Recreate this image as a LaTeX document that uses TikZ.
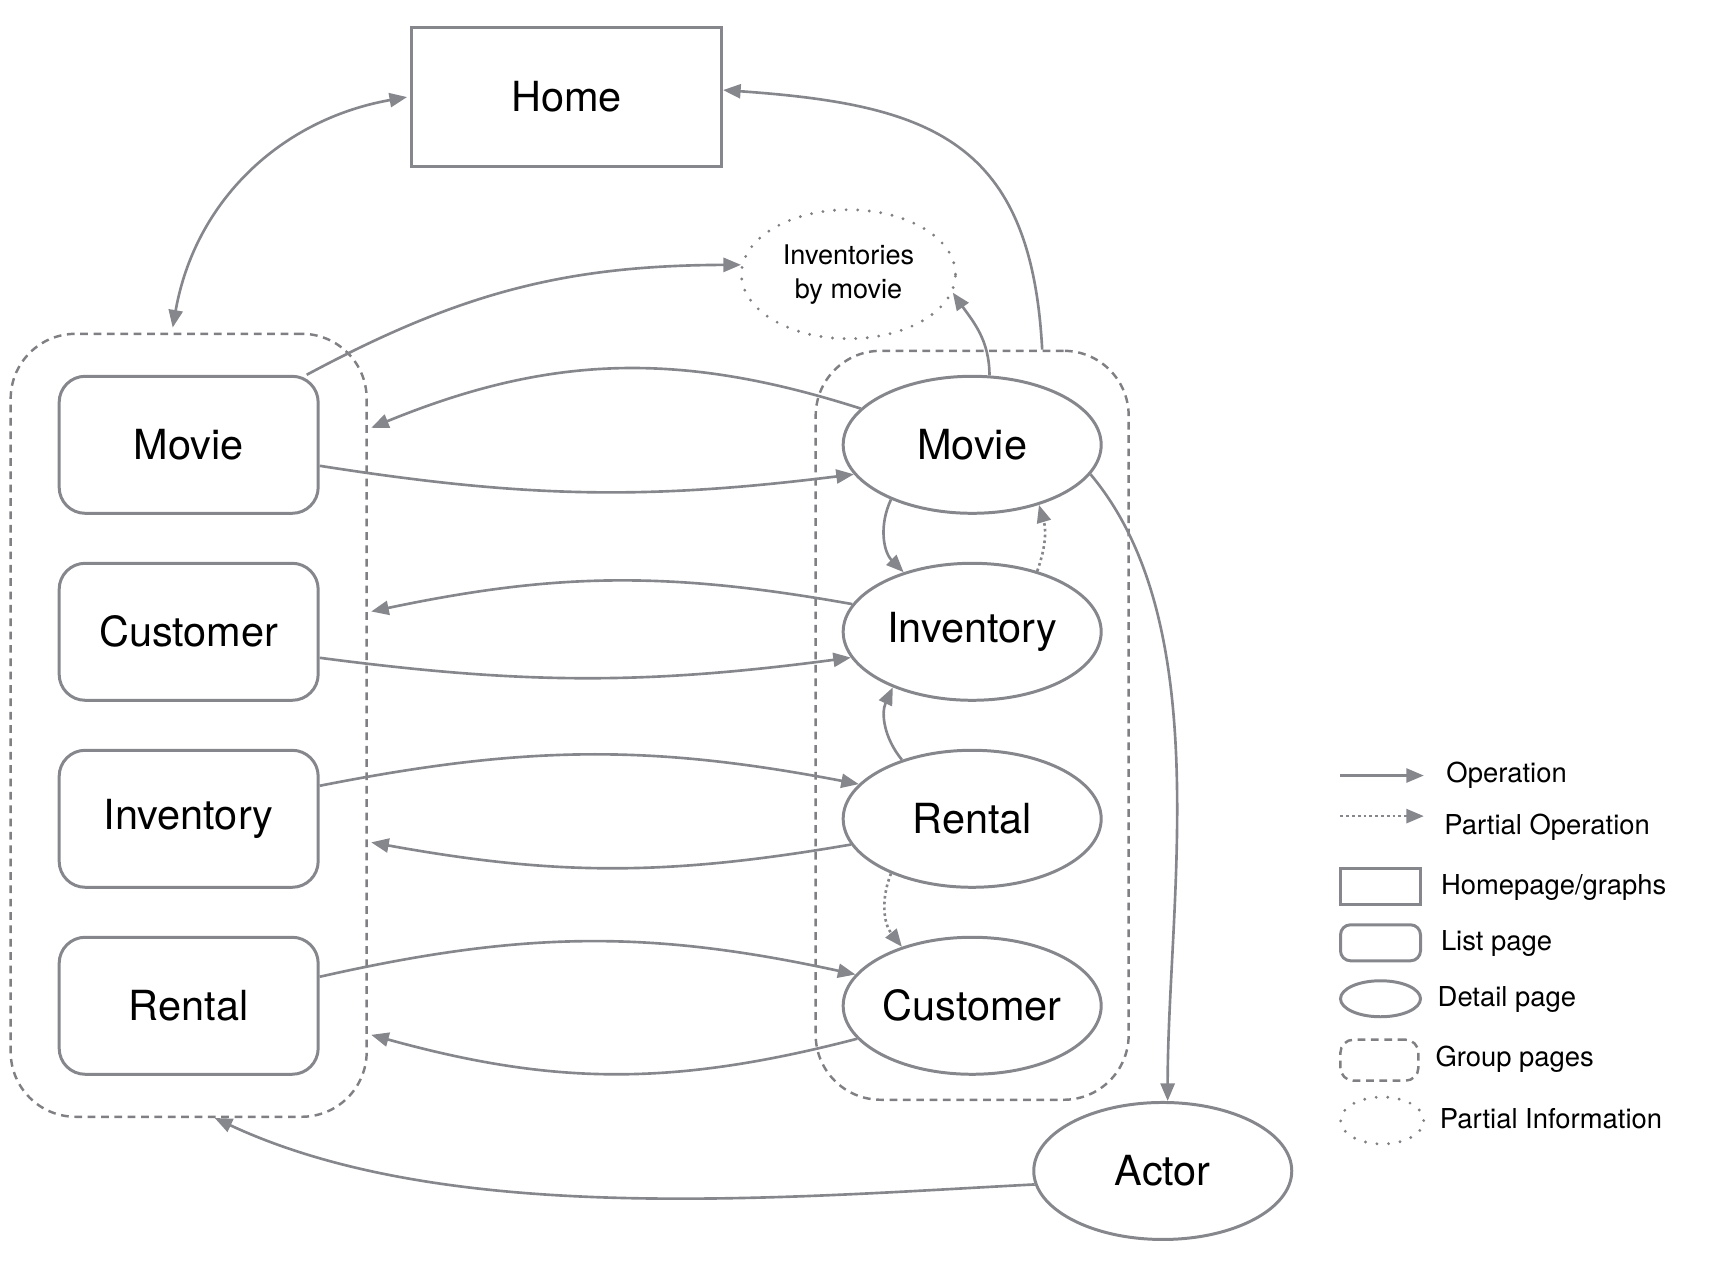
\documentclass[tikz,border=0pt]{standalone}
\usepackage{fontspec}
\setmainfont{TeX Gyre Heros}
\usepackage{xcolor}
\usetikzlibrary{positioning,arrows.meta,calc,fit,shapes.geometric}
\definecolor{linegray}{RGB}{134,135,140}
\definecolor{dashgray}{RGB}{128,128,132}

\begin{document}
\begin{tikzpicture}[
    x=0.1097mm, y=0.1097mm,
    node distance=4.7mm and 52.2mm,
    page/.style={draw=linegray, line width=0.85pt, font=\fontsize{11.8}{14}\selectfont},
    home/.style={page, rectangle, minimum width=31mm, minimum height=13.9mm},
    listpage/.style={page, rectangle, rounded corners=2.6mm, minimum width=25.9mm, minimum height=13.7mm},
    detail/.style={page, ellipse, inner sep=0pt, minimum width=25.8mm, minimum height=13.7mm},
    group/.style={draw=dashgray, line width=0.7pt, dash pattern=on 2.2pt off 1.6pt, rounded corners=6.5mm},
    partial/.style={draw=dashgray, line width=0.9pt, line cap=round, dash pattern=on 0pt off 3.3pt, ellipse, align=center, inner sep=0pt, font=\fontsize{7.7}{9.6}\selectfont},
    arrow/.style={-{Triangle[length=5pt,width=4pt]}, draw=linegray, line width=0.75pt},
    dblarrow/.style={arrow, {Triangle[length=5pt,width=4pt]}-{Triangle[length=5pt,width=4pt]}},
    dotarrow/.style={arrow, dash pattern=on 0.75pt off 0.9pt},
    legend/.style={anchor=west, inner sep=0pt, font=\fontsize{7.8}{9}\selectfont}
]
\useasboundingbox (0,0) rectangle (1568,1163);

% Home page
\node[home] (home) at (516.5,1074.5) {Home};

% List pages
\node[listpage] (lmovie) at (172,757.5) {Movie};
\node[listpage, below=of lmovie] (lcustomer) {Customer};
\node[listpage, below=of lcustomer] (linventory) {Inventory};
\node[listpage, below=of linventory] (lrental) {Rental};

% Detail pages
\node[detail, right=of lmovie] (rmovie) {Movie};
\node[detail, right=of lcustomer] (rinventory) {Inventory};
\node[detail, right=of linventory] (rrental) {Rental};
\node[detail, right=of lrental] (rcustomer) {Customer};
\node[detail] (actor) at (1060,95.5) {Actor};

% Partial information
\node[partial, minimum width=21.4mm, minimum height=12.9mm] (invmovie) at (773.5,913) {Inventories\\by movie};

% Groups
\node[group, fit=(lmovie)(lrental), inner xsep=4.7mm, inner ysep=4.1mm] (lgroup) {};
\node[group, fit=(rmovie)(rcustomer), inner xsep=2.6mm, inner ysep=2.4mm] (rgroup) {};

% Links to home
\draw[dblarrow] ([xshift=-1.6mm,yshift=0.5mm]lgroup.north) to[out=80, in=190] ([xshift=-0.3mm]home.west);
\draw[arrow] ([xshift=7mm]rgroup.north) to[out=93, in=-4, looseness=1.3] ([yshift=0.7mm]home.east);

% Inventories by movie
\draw[arrow] ([xshift=-1.3mm]lmovie.north east) to[bend left=14] (invmovie.175);
\draw[arrow] (rmovie.76) to[out=90, in=-55] (invmovie.350);

% List <-> detail
\draw[arrow] (rmovie.162) to[bend right=20] ($(lgroup.east |- lmovie)+(3,15.5)$);
\draw[arrow] ([yshift=-2.1mm]lmovie.east) to[bend right=8] (rmovie.194);
\draw[arrow] (rinventory.167) to[bend right=11] ($(lgroup.east |- lcustomer)+(3,18.5)$);
\draw[arrow] ([yshift=-2.6mm]lcustomer.east) to[bend right=7.5] (rinventory.192);
\draw[arrow] ([yshift=3.3mm]linventory.east) to[bend left=11] (rrental.163);
\draw[arrow] (rrental.192) to[bend left=10] ($(lgroup.east |- linventory)+(3,-21.5)$);
\draw[arrow] ([yshift=2.9mm]lrental.east) to[bend left=12.5] (rcustomer.165);
\draw[arrow] (rcustomer.196) to[bend left=15] ($(lgroup.east |- lrental)+(3,-26.5)$);

% Between detail pages
\draw[arrow] (rmovie.214) to[bend right=35] (rinventory.139);
\draw[dotarrow] (rinventory.43) to[bend right=18] (rmovie.318);
\draw[arrow] (rrental.140) to[bend left=32] (rinventory.215);
\draw[dotarrow] (rrental.214) to[bend right=30] (rcustomer.140);

% Actor
\draw[arrow] (rmovie.346) to[out=-50, in=90, looseness=0.8] (actor.86);
\draw[arrow] (actor.186) to[out=183, in=-25, looseness=0.8] ([xshift=2.6mm]lgroup.south);

% Legend
\coordinate (opa) at (1222,456);
\coordinate (opb) at (1298,456);
\coordinate (popa) at (1222,419);
\coordinate (popb) at (1298,419);
\draw[arrow] (opa) -- (opb);
\draw[dotarrow] (popa) -- (popb);
\node[legend] (lgop) at (1318,456) {Operation};
\node[legend] (lgpop) at (1316,409) {Partial Operation};
\node[home, minimum width=8mm, minimum height=3.6mm] (kyhome) at (1258.5,354.5) {};
\node[legend] (lghome) at (1313,354) {Homepage/graphs};
\node[listpage, rounded corners=1mm, minimum width=8mm, minimum height=3.6mm] (kylist) at (1258.5,303.5) {};
\node[legend] (lglist) at (1313,303) {List page};
\node[detail, minimum width=8mm, minimum height=3.6mm] (kydetail) at (1258.5,252.5) {};
\node[legend] (lgdetail) at (1310,252) {Detail page};
\node[group, rounded corners=1.3mm, minimum width=7.8mm, minimum height=4.1mm] (kygroup) at (1257.5,196.5) {};
\node[legend] (lggroup) at (1308,197) {Group pages};
\node[partial, minimum width=8.3mm, minimum height=4.7mm] (kypartial) at (1260,141.5) {};
\node[legend] (lgpartial) at (1312,143) {Partial Information};

\end{tikzpicture}
\end{document}
